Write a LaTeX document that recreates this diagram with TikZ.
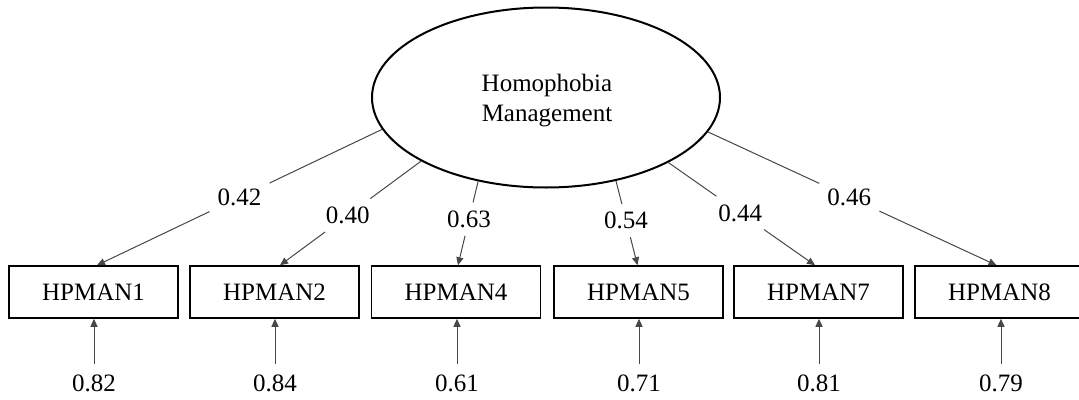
\documentclass[tikz,border=0pt]{standalone}
\usepackage{fontspec}
\setmainfont{Liberation Serif}
\usetikzlibrary{arrows.meta,calc,shapes.geometric}
\begin{document}
\begin{tikzpicture}[x=1pt,y=-1pt,
  every node/.style={font=\fontsize{25}{30}\selectfont},
  latent/.style={ellipse,draw,line width=2pt,minimum width=348pt,minimum height=180pt,inner sep=0pt},
  obs/.style={rectangle,draw,line width=1.5pt,minimum width=169pt,minimum height=52pt,inner sep=0pt},
  conn/.style={draw=black!72,line width=1pt},
  arr/.style={conn,-{Triangle[length=8pt,width=7pt]}},
  lab/.style={inner sep=8pt},
  err/.style={inner xsep=0pt,inner ysep=10pt}]
\useasboundingbox (0,0) rectangle (1079,399);
\node[latent] (lat) at (546,97.5) {};
\node[align=center,inner sep=0pt] (lattext) at (547,101) {Homophobia\\Management};
\node[obs] (b1) at (93.5,292) {HPMAN1};
\node[obs] (b2) at (274.5,292) {HPMAN2};
\node[obs] (b4) at (456,292) {HPMAN4};
\node[obs] (b5) at (638.5,292) {HPMAN5};
\node[obs] (b7) at (818.5,292) {HPMAN7};
\node[obs] (b8) at (999.5,292) {HPMAN8};
\coordinate (t1) at ($(b1.north)+(3.5,0)$);
\coordinate (t2) at ($(b2.north)+(5.5,0)$);
\coordinate (t4) at ($(b4.north)+(2,0)$);
\coordinate (t5) at ($(b5.north)+(-1,0)$);
\coordinate (t7) at ($(b7.north)+(-3.5,0)$);
\coordinate (t8) at ($(b8.north)+(-3,0)$);
\coordinate (s1) at (lat.191.5);
\coordinate (s2) at (lat.207.8);
\coordinate (s4) at (lat.231.2);
\coordinate (s5) at (lat.310);
\coordinate (s7) at (lat.332.7);
\coordinate (s8) at (lat.348.8);
\path (s1) -- (t1) node[lab,pos=0.5] (l1) {0.42};
\path (s2) -- (t2) node[lab,pos=0.52] (l2) {0.40};
\path (s4) -- (t4) node[lab,pos=0.45] (l4) {0.63};
\path (s5) -- (t5) node[lab,pos=0.47] (l5) {0.54};
\path (s7) -- (t7) node[lab,pos=0.49] (l7) {0.44};
\path (s8) -- (t8) node[lab,pos=0.49] (l8) {0.46};
\foreach \i in {1,2,4,5,7,8}{
  \draw[conn] (s\i) -- (l\i);
  \draw[arr] (l\i) -- (t\i);
}
\node[err] (e1) at (94,383) {0.82};
\node[err] (e2) at (275,383) {0.84};
\node[err] (e4) at (457,383) {0.61};
\node[err] (e5) at (639,383) {0.71};
\node[err] (e7) at (819,383) {0.81};
\node[err] (e8) at (1001,383) {0.79};
\foreach \i in {1,2,4,5,7,8}{
  \draw[arr] (e\i) -- (e\i |- b\i.south);
}
\end{tikzpicture}
\end{document}
